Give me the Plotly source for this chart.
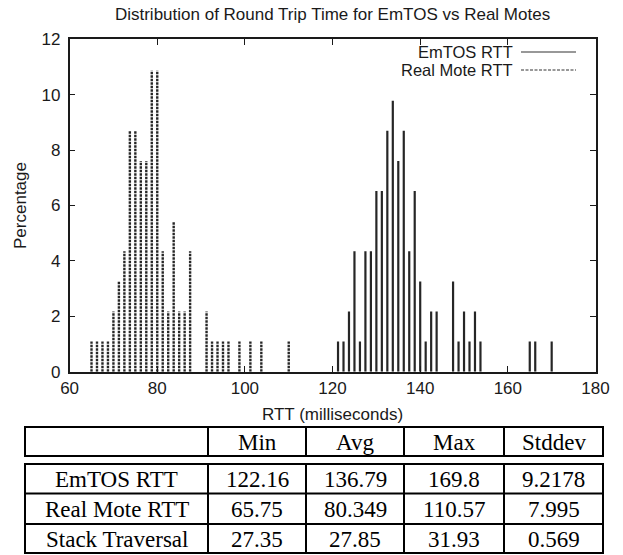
import plotly.graph_objects as go

W, H = 623, 555

# ---- data ----
emtos_x = [121.25, 122.5, 123.75, 125, 126.25, 127.5, 128.75, 130, 131.25, 132.5, 133.75,
           135, 136.25, 137.5, 138.75, 140, 141.25, 142.5, 143.75, 147.5, 148.75, 150,
           151.25, 152.5, 153.75, 165, 166.25, 170]
emtos_pct = [1.09, 1.09, 2.17, 4.35, 1.09, 4.35, 4.35, 6.52, 6.52, 8.70, 9.78,
             7.61, 8.70, 4.35, 6.52, 3.26, 1.09, 2.17, 2.17, 3.26, 1.09, 2.17,
             1.09, 2.17, 1.09, 1.09, 1.09, 1.09]

real_x = [65, 66.25, 67.5, 68.75, 70, 71.25, 72.5, 73.75, 75, 76.25, 77.5, 78.75, 80,
          81.25, 82.5, 83.75, 85, 86.25, 87.5, 91.25, 92.5, 93.75, 95, 96.25, 98.75,
          101.25, 103.75, 110]
real_pct = [1.09, 1.09, 1.09, 1.09, 2.17, 3.26, 4.35, 8.70, 8.70, 7.61, 7.61, 10.87, 10.87,
            4.35, 2.17, 5.43, 2.17, 2.17, 4.35, 2.17, 1.09, 1.09, 1.09, 1.09, 1.09,
            1.09, 1.09, 1.09]

x_ticks = [60, 80, 100, 120, 140, 160, 180]
y_ticks = [0, 2, 4, 6, 8, 10, 12]

table_header = ["", "Min", "Avg", "Max", "Stddev"]
row_labels = ["EmTOS RTT", "Real Mote RTT", "Stack Traversal"]
col_min = ["122.16", "65.75", "27.35"]
col_avg = ["136.79", "80.349", "27.85"]
col_max = ["169.8", "110.57", "31.93"]
col_std = ["9.2178", "7.995", "0.569"]

series_names = ["EmTOS RTT", "Real Mote RTT"]

# ---- layout geometry (pixels) ----
PLOT_L, PLOT_R, PLOT_T, PLOT_B = 69.6, 595.5, 39.3, 371.7
COL_EDGES = [25, 208, 306, 404, 504, 603]
HEAD_TOP, HEAD_BOT = 427, 456
BODY_EDGES = [464, 493.5, 524, 553]


def px(x):
    return x / W


def py(y):
    return min(1.0, max(0.0, 1 - y / H))


def impulses(xs, ys):
    X, Y = [], []
    for x, y in zip(xs, ys):
        X += [x, x, None]
        Y += [0, y, None]
    return X, Y


SANS = "Liberation Sans, Arial, sans-serif"
SERIF = "Liberation Serif, Times New Roman, serif"
INK = "#1a1a1a"

fig = go.Figure()

ex, ey = impulses(emtos_x, emtos_pct)
fig.add_trace(go.Scatter(x=ex, y=ey, mode="lines", name=series_names[0],
                         line=dict(color="#262626", width=2.2), hoverinfo="skip"))
rx, ry = impulses(real_x, real_pct)
fig.add_trace(go.Scatter(x=rx, y=ry, mode="lines", name=series_names[1],
                         line=dict(color="#262626", width=2.4, dash="2.5px,1px"), hoverinfo="skip"))

axis_common = dict(showline=True, linecolor=INK, linewidth=1.5, mirror="allticks",
                   ticks="inside", ticklen=6, tickwidth=1, tickcolor=INK,
                   showgrid=False, zeroline=False, automargin=False,
                   tickfont=dict(family=SANS, size=17, color=INK))

fig.update_layout(
    width=W, height=H,
    margin=dict(l=0, r=0, t=0, b=0, autoexpand=False),
    paper_bgcolor="white", plot_bgcolor="white",
    showlegend=False,
    title=dict(text="Distribution of Round Trip Time for EmTOS vs Real Motes",
               x=px((PLOT_L + PLOT_R) / 2), xanchor="center", xref="paper",
               y=py(14), yanchor="middle", yref="container", automargin=False,
               font=dict(family=SANS, size=17, color=INK)),
    xaxis=dict(domain=[px(PLOT_L), px(PLOT_R)], range=[60, 180], tickvals=x_ticks,
               title=dict(text="RTT (milliseconds)", standoff=11,
                          font=dict(family=SANS, size=17, color=INK)),
               **axis_common),
    yaxis=dict(domain=[py(PLOT_B), py(PLOT_T)], range=[0, 12], tickvals=y_ticks,
               ticklabelstandoff=4,
               title=dict(text="Percentage", standoff=11,
                          font=dict(family=SANS, size=17, color=INK)),
               **axis_common),
)

# legend (text on left, line sample on right, as in the original)
leg_y = [52, 70]
dashes = ["solid", "3px,1.5px"]
for name, yy, d in zip(series_names, leg_y, dashes):
    fig.add_annotation(text=name, x=px(514), y=py(yy), xref="paper", yref="paper",
                       xanchor="right", yanchor="middle", showarrow=False, borderpad=0,
                       font=dict(family=SANS, size=16.5, color=INK))
    fig.add_shape(type="line", x0=px(521), x1=px(576), y0=py(yy), y1=py(yy),
                  xref="paper", yref="paper", line=dict(color="#333333", width=1.2, dash=d))

# ---- table drawn with shapes and text ----
tl = dict(color="black", width=2)
def hline(y, x0=COL_EDGES[0], x1=COL_EDGES[-1]):
    fig.add_shape(type="line", xref="paper", yref="paper", x0=px(x0), x1=px(x1),
                  y0=py(y), y1=py(y), line=tl)
def vline(x, y0, y1):
    fig.add_shape(type="line", xref="paper", yref="paper", x0=px(x), x1=px(x),
                  y0=py(y0), y1=py(y1), line=tl)

# header block
hline(HEAD_TOP)
hline(HEAD_BOT)
for xe in COL_EDGES:
    vline(xe, HEAD_TOP - 1, HEAD_BOT + 1)
# body block
for ye in BODY_EDGES:
    hline(ye)
for xe in COL_EDGES:
    vline(xe, BODY_EDGES[0] - 1, BODY_EDGES[-1] + 1)

col_centers = [(a + b) / 2 for a, b in zip(COL_EDGES[:-1], COL_EDGES[1:])]
TFONT = dict(family=SERIF, size=23, color="black")
for cx, txt in zip(col_centers, table_header):
    if txt:
        fig.add_annotation(text=txt, x=px(cx), y=py((HEAD_TOP + HEAD_BOT) / 2 + 1),
                           xref="paper", yref="paper", showarrow=False,
                           xanchor="center", yanchor="middle", borderpad=0, font=TFONT)

columns = [row_labels, col_min, col_avg, col_max, col_std]
row_centers = [(a + b) / 2 + 1 for a, b in zip(BODY_EDGES[:-1], BODY_EDGES[1:])]
for cx, col in zip(col_centers, columns):
    for cy, txt in zip(row_centers, col):
        fig.add_annotation(text=txt, x=px(cx), y=py(cy), xref="paper", yref="paper",
                           showarrow=False, xanchor="center", yanchor="middle",
                           borderpad=0, font=TFONT)

fig.write_html("out.html", config={"displayModeBar": False},
               post_script="document.body.style.margin='0';document.body.style.overflow='hidden';")
